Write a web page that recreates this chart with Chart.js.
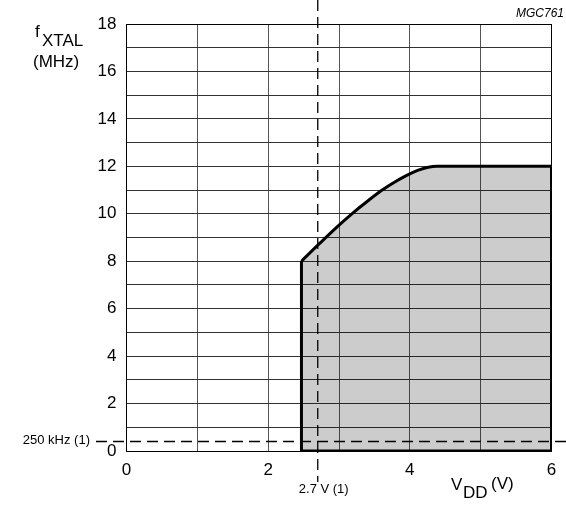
<!DOCTYPE html>
<html><head><meta charset="utf-8">
<script src="https://cdn.jsdelivr.net/npm/chart.js@4/dist/chart.umd.min.js"></script>
<style>html,body{margin:0;padding:0;background:#fff}#wrap{width:566px;height:508px;position:relative}</style>
</head><body><div id="wrap"><canvas id="c" width="566" height="508"></canvas></div>
<script>
// Boundary of the operating area (VDD in V, fXTAL in MHz)
const vddCurve = [2.47, 2.73, 2.97, 3.19, 3.41, 3.61, 3.80, 3.97, 4.12, 4.26, 4.38, 6];
const fxtalCurve = [8, 8.76, 9.44, 10.02, 10.55, 11.0, 11.36, 11.64, 11.84, 11.96, 12, 12];
// Straight edges of the area
const vddEdge = [2.47, 2.47, 6, 6];
const fxtalEdge = [8, 0, 0, 12];
// Reference (dashed) lines
const vddMin = 2.7;      // 2.7 V (1)
const fxtalMin = 0.4;    // 250 kHz (1) as drawn
const xTicks = [0, 2, 4, 6];
const yTicks = [0, 2, 4, 6, 8, 10, 12, 14, 16, 18];

const FONT = '"Liberation Sans", Arial, sans-serif';

const refPlugin = {
  id: 'refs',
  afterDatasetsDraw(chart) {
    const ctx = chart.ctx, xs = chart.scales.x, ys = chart.scales.y;
    ctx.save();
    ctx.strokeStyle = '#000';
    ctx.lineWidth = 1.3;
    ctx.setLineDash([11, 6]);
    const px = xs.getPixelForValue(vddMin);
    ctx.beginPath(); ctx.moveTo(px, 0); ctx.lineTo(px, 482); ctx.stroke();
    const py = ys.getPixelForValue(fxtalMin);
    ctx.beginPath(); ctx.moveTo(96, py); ctx.lineTo(566, py); ctx.stroke();
    ctx.setLineDash([]);
    ctx.fillStyle = '#000';
    ctx.font = '13px ' + FONT;
    ctx.textBaseline = 'middle';
    ctx.textAlign = 'right';
    ctx.fillText('250 kHz (1)', 90, py - 1);
    ctx.textAlign = 'center';
    ctx.textBaseline = 'alphabetic';
    ctx.fillText('2.7 V (1)', px + 6, 493);
    // y title
    ctx.textAlign = 'left';
    ctx.font = '17px ' + FONT;
    ctx.fillText('f', 35, 37);
    ctx.fillText('XTAL', 42, 46);
    ctx.fillText('(MHz)', 33, 67);
    // x title
    ctx.fillText('V', 451, 490);
    ctx.fillText('DD', 463, 498);
    ctx.fillText('(V)', 491, 489);
    // figure code
    ctx.font = 'italic 12px ' + FONT;
    ctx.textAlign = 'right';
    ctx.fillText('MGC761', 564, 17);
    ctx.restore();
  }
};

new Chart(document.getElementById('c'), {
  type: 'scatter',
  data: {
    datasets: [
      {
        data: vddCurve.map((v, i) => ({x: v, y: fxtalCurve[i]})),
        showLine: true,
        cubicInterpolationMode: 'monotone',
        borderColor: '#000',
        borderWidth: 3,
        backgroundColor: 'rgba(0,0,0,0.2)',
        fill: 'origin',
        pointRadius: 0
      },
      {
        data: vddEdge.map((v, i) => ({x: v, y: fxtalEdge[i]})),
        showLine: true,
        tension: 0,
        borderColor: '#000',
        borderWidth: 3,
        borderJoinStyle: 'miter',
        fill: false,
        pointRadius: 0
      }
    ]
  },
  options: {
    responsive: false,
    animation: false,
    devicePixelRatio: 1,
    layout: {padding: {left: 0, top: 24, right: 14.5, bottom: 0}},
    plugins: {legend: {display: false}, tooltip: {enabled: false}},
    scales: {
      x: {
        type: 'linear', min: 0, max: 6,
        afterFit(s) { s.height = 57; },
        ticks: {
          stepSize: 1, padding: 9, color: '#000',
          font: {family: FONT, size: 17},
          callback: v => xTicks.includes(v) ? String(v) : ''
        },
        grid: {
          drawTicks: false, lineWidth: 1,
          color: c => (c.tick && c.tick.value === 6) ? '#000' : '#555'
        },
        border: {color: '#000', width: 1}
      },
      y: {
        type: 'linear', min: 0, max: 18,
        afterFit(s) { s.width = 126.5; },
        ticks: {
          stepSize: 1, padding: 10, color: '#000',
          font: {family: FONT, size: 17},
          callback: v => yTicks.includes(v) ? String(v) : ''
        },
        grid: {
          drawTicks: false, lineWidth: 1,
          color: c => (c.tick && c.tick.value === 18) ? '#000' : '#333'
        },
        border: {color: '#000', width: 1}
      }
    }
  },
  plugins: [refPlugin]
});
</script></body></html>
